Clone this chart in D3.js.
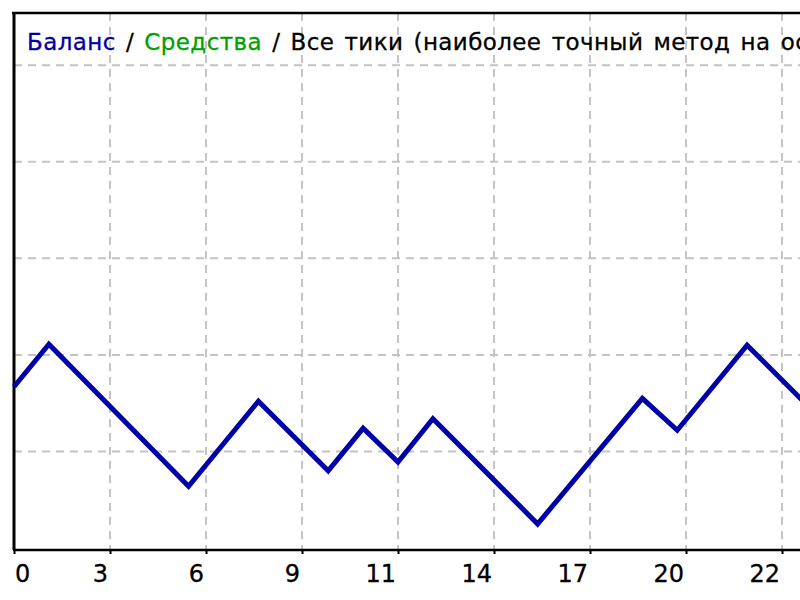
<!DOCTYPE html>
<html><head><meta charset="utf-8">
<script src="https://cdn.jsdelivr.net/npm/d3@7"></script>
<style>html,body{margin:0;padding:0;background:#fff;overflow:hidden}</style>
</head><body>
<svg id="c" width="800" height="600"></svg>
<script>
// ---- data ----
const trades   = [0, 1, 5, 7, 9, 10, 11, 12, 15, 18, 19, 21, 22, 23];
const balance  = [5067, 5111, 4964, 5052, 4980, 5024, 4989, 5034, 4925, 5055, 5022, 5110, 5074, 5038];
const xTickLabels = ["0", "3", "6", "9", "11", "14", "17", "20", "22"];
const xGridStep = 2.75;            // trades per vertical grid line
const yGridValues = [5000, 5100, 5200, 5300, 5400];
const titleParts  = ["Баланс", " / ", "Средства", " / Все тики (наиболее точный метод на основе всех наименьших доступных таймфреймов)"];
const titleColors = ["#0000a0", "#000", "#00a000", "#000"];

// ---- layout ----
const svg = d3.select("#c");
const L = 14, T = 13, B = 550;
const x = d3.scaleLinear().domain([0, 22]).range([L, 782]);
const y = d3.scaleLinear().domain([4898, 5454]).range([B, T]);
const FONT = "DejaVu Sans, Verdana, sans-serif";

svg.append("rect").attr("width", 800).attr("height", 600).attr("fill", "#fff");

// grid
const xTicks = xTickLabels.map((d, i) => i * xGridStep);
svg.append("g").selectAll("line").data(xTicks.slice(1)).join("line")
  .attr("x1", d => x(d)).attr("x2", d => x(d)).attr("y1", T).attr("y2", B)
  .attr("stroke", "#c4c4c4").attr("stroke-width", 2).attr("stroke-dasharray", "8,6");
svg.append("g").selectAll("line").data(yGridValues).join("line")
  .attr("x1", L).attr("x2", 800).attr("y1", d => y(d)).attr("y2", d => y(d))
  .attr("stroke", "#c4c4c4").attr("stroke-width", 2).attr("stroke-dasharray", "8,6");

// frame
svg.append("line").attr("x1", L - 2).attr("x2", 800).attr("y1", T).attr("y2", T)
  .attr("stroke", "#000").attr("stroke-width", 2.5);
svg.append("line").attr("x1", L).attr("x2", L).attr("y1", T).attr("y2", B)
  .attr("stroke", "#000").attr("stroke-width", 3);

// x axis
const xAxis = d3.axisBottom(x).tickValues(xTicks).tickSize(4).tickFormat("");
const ax = svg.append("g").attr("transform", `translate(0,${B})`).call(xAxis);
ax.select(".domain").attr("stroke", "#000").attr("stroke-width", 2.5).attr("d", `M${L - 1},0H800`);
ax.selectAll(".tick line").attr("stroke", "#000").attr("stroke-width", 2);
svg.append("g").selectAll("text").data(xTickLabels).join("text")
  .attr("x", (d, i) => i === 0 ? x(xTicks[i]) + 1 : x(xTicks[i]) - 2)
  .attr("y", 582)
  .attr("text-anchor", (d, i) => i === 0 ? "start" : "end")
  .attr("font-family", FONT)
  .attr("font-size", 24)
  .attr("fill", "#000")
  .attr("stroke", "#000").attr("stroke-width", 0.3)
  .text(d => d);

// balance line
const line = d3.line().x(d => x(d[0])).y(d => y(d[1]));
svg.append("path").datum(trades.map((t, i) => [t, balance[i]]))
  .attr("d", line).attr("fill", "none").attr("stroke", "#0000a8")
  .attr("stroke-width", 5).attr("stroke-linejoin", "miter");

// title (runs off the right edge, as in the reference)
const title = svg.append("text").attr("x", 27).attr("y", 50)
  .attr("xml:space", "preserve")
  .attr("font-family", FONT).attr("font-size", 23)
  .attr("letter-spacing", 0.4).attr("word-spacing", 2.5);
title.selectAll("tspan").data(titleParts).join("tspan")
  .attr("fill", (d, i) => titleColors[i])
  .attr("stroke", (d, i) => titleColors[i]).attr("stroke-width", 0.3)
  .text(d => d);
</script>
</body></html>
